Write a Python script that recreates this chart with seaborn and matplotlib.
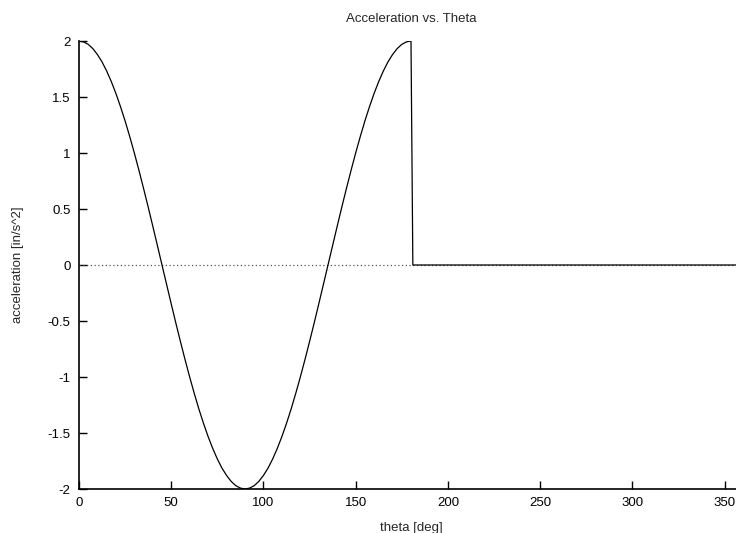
import numpy as np
import pandas as pd
import matplotlib.pyplot as plt
import seaborn as sns

# values (every 2.5 deg up to 180, then flat zero)
theta = [0, 2.5, 5, 7.5, 10, 12.5, 15, 17.5, 20, 22.5, 25, 27.5, 30, 32.5, 35, 37.5,
         40, 42.5, 45, 47.5, 50, 52.5, 55, 57.5, 60, 62.5, 65, 67.5, 70, 72.5, 75,
         77.5, 80, 82.5, 85, 87.5, 90, 92.5, 95, 97.5, 100, 102.5, 105, 107.5, 110,
         112.5, 115, 117.5, 120, 122.5, 125, 127.5, 130, 132.5, 135, 137.5, 140,
         142.5, 145, 147.5, 150, 152.5, 155, 157.5, 160, 162.5, 165, 167.5, 170,
         172.5, 175, 177.5, 180, 181, 360]
accel = [2.0, 1.992, 1.970, 1.932, 1.879, 1.813, 1.732, 1.638, 1.532, 1.414, 1.286,
         1.147, 1.0, 0.845, 0.684, 0.518, 0.347, 0.174, 0.0,
         -0.174, -0.347, -0.518, -0.684, -0.845, -1.0, -1.147, -1.286, -1.414,
         -1.532, -1.638, -1.732, -1.813, -1.879, -1.932, -1.970, -1.992, -2.0,
         -1.992, -1.970, -1.932, -1.879, -1.813, -1.732, -1.638, -1.532, -1.414,
         -1.286, -1.147, -1.0, -0.845, -0.684, -0.518, -0.347, -0.174, 0.0,
         0.174, 0.347, 0.518, 0.684, 0.845, 1.0, 1.147, 1.286, 1.414, 1.532,
         1.638, 1.732, 1.813, 1.879, 1.932, 1.970, 1.992, 2.0, 0.0, 0.0]
x_ticks = [0, 50, 100, 150, 200, 250, 300, 350]
y_ticks = [-2, -1.5, -1, -0.5, 0, 0.5, 1, 1.5, 2]
y_labels = ['-2', '-1.5', '-1', '-0.5', '0', '0.5', '1', '1.5', '2']

df = pd.DataFrame({'theta': theta, 'accel': accel})

sns.set_style('ticks')
plt.rcParams['font.family'] = ['Liberation Sans', 'DejaVu Sans']

fig = plt.figure(figsize=(7.36, 5.33), dpi=100)
ax = fig.add_axes([79 / 736, 44 / 533, 664 / 736, 448 / 533])

# zero axis
ax.axhline(0, color='#555555', lw=0.9, ls=(0, (1, 2)), zorder=1)

sns.lineplot(data=df, x='theta', y='accel', sort=False, color='black',
             lw=0.9, ax=ax, zorder=2)

ax.set_xlim(0, 360)
ax.set_ylim(-2, 2)
ax.set_xticks(x_ticks)
ax.set_xticklabels([str(t) for t in x_ticks])
ax.set_yticks(y_ticks)
ax.set_yticklabels(y_labels)
ax.tick_params(direction='in', length=6, width=1, labelsize=9.5, colors='black', pad=6)

for s in ['top', 'right']:
    ax.spines[s].set_visible(False)
for s in ['left', 'bottom']:
    ax.spines[s].set_linewidth(1.2)
    ax.spines[s].set_color('black')

ax.set_xlabel('theta [deg]', fontsize=9.5, labelpad=9)
ax.set_ylabel('acceleration [in/s^2]', fontsize=9.5, labelpad=17)
ax.set_title('Acceleration vs. Theta', fontsize=9.5, pad=14)

fig.savefig('out.png', dpi=100)
